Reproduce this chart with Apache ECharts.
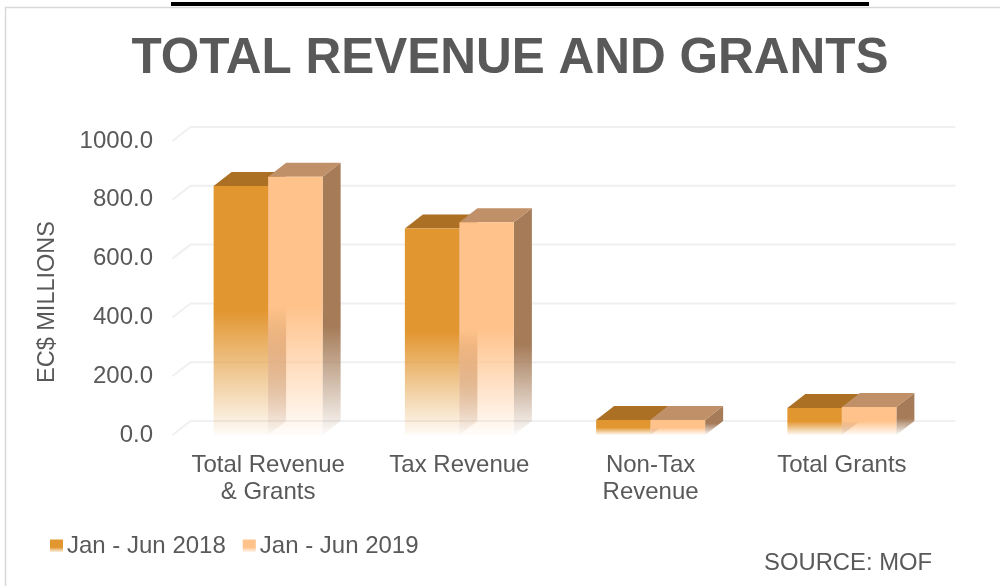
<!DOCTYPE html>
<html>
<head>
<meta charset="utf-8">
<style>
  html, body { margin: 0; padding: 0; background: #fff; }
  #main { width: 1000px; height: 586px; }
</style>
<script src="https://cdn.jsdelivr.net/npm/echarts@6/dist/echarts.min.js"></script>
</head>
<body>
<div id="main"></div>
<script>
var categories = ['Total Revenue\n& Grants', 'Tax Revenue', 'Non-Tax\nRevenue', 'Total Grants'];
var values2018 = [847, 702, 51, 92];
var values2019 = [878, 724, 51, 95];
var yTicks = [0, 200, 400, 600, 800, 1000];

var fontName = '"Liberation Sans", Arial, sans-serif';
var textColor = '#595959';
// 3d offset of the back of the bars, in pixels
var depthX = 18;
var depthY = 14;

var myChart = echarts.init(document.getElementById('main'), null, { renderer: 'canvas' });

var fade = function(color, stop) {
  return new echarts.graphic.LinearGradient(0, 0, 0, 1, [
    { offset: 0, color: color },
    { offset: stop, color: color },
    { offset: 1, color: echarts.color.modifyAlpha(color, 0.04) }
  ]);
};

var barRender = function(front, top, side, isLeft) {
  return function(params, api) {
    var base = api.coord([api.value(0), 0]);
    var head = api.coord([api.value(0), api.value(1)]);
    var w = api.size([1, 0])[0] * 0.285;
    var x0 = isLeft ? head[0] - w : head[0];
    var x1 = x0 + w;
    return {
      type: 'group',
      children: [{
        type: 'polygon',
        shape: { points: [[x1, head[1]], [x1 + depthX, head[1] - depthY], [x1 + depthX, base[1] - depthY], [x1, base[1]]] },
        style: { fill: fade(side, 0.6) }
      }, {
        type: 'polygon',
        shape: { points: [[x0, head[1]], [x0 + depthX, head[1] - depthY], [x1 + depthX, head[1] - depthY], [x1, head[1]]] },
        style: { fill: top }
      }, {
        type: 'rect',
        shape: { x: x0, y: head[1], width: w, height: base[1] - head[1] },
        style: { fill: fade(front, 0.5) }
      }]
    };
  };
};

var gridRender = function(params, api) {
  var y = api.coord([0, api.value(0)])[1];
  var box = params.coordSys;
  return {
    type: 'polyline',
    shape: { points: [[box.x, y], [box.x + depthX, y - depthY], [box.x + box.width + depthX, y - depthY]] },
    style: { fill: 'none', stroke: '#f0f0f0', lineWidth: 2 },
    silent: true
  };
};

var option = {
  animation: false,
  backgroundColor: '#fff',
  textStyle: { fontFamily: fontName },
  title: {
    text: 'TOTAL REVENUE AND GRANTS',
    left: 505,
    top: 29,
    textAlign: 'center',
    textStyle: { fontFamily: fontName, fontSize: 49.5, fontWeight: 'bold', color: textColor }
  },
  legend: {
    left: 45,
    top: 529,
    itemWidth: 13,
    itemHeight: 13,
    itemGap: 17,
    icon: 'rect',
    textStyle: { fontFamily: fontName, fontSize: 24, color: textColor, padding: [0, 0, 0, -1] },
    data: [
      { name: 'Jan - Jun 2018', itemStyle: { color: fade('#e29630', 0.6) } },
      { name: 'Jan - Jun 2019', itemStyle: { color: fade('#ffc28a', 0.6) } }
    ]
  },
  grid: { left: 172.5, right: 62.5, top: 141, bottom: 151 },
  xAxis: {
    type: 'category',
    data: categories,
    axisLine: { show: false },
    axisTick: { show: false },
    axisLabel: { fontFamily: fontName, fontSize: 24, color: textColor, margin: 17, lineHeight: 27, interval: 0 }
  },
  yAxis: {
    type: 'value',
    min: 0,
    max: 1000,
    interval: 200,
    axisLine: { show: false },
    axisTick: { show: false },
    splitLine: { show: false },
    axisLabel: {
      fontFamily: fontName, fontSize: 24, color: textColor, margin: 19.5, padding: [6, 0, 0, 0],
      formatter: function(v) { return v.toFixed(1); }
    }
  },
  graphic: [
    { type: 'rect', shape: { x: 171, y: 2, width: 698, height: 4 }, style: { fill: '#000' } },
    { type: 'polyline', shape: { points: [[5.5, 586], [5.5, 7.5], [1000, 7.5]] }, style: { fill: 'none', stroke: '#d9d9d9', lineWidth: 1.5 } },
    {
      type: 'text', x: 48, y: 302, rotation: Math.PI / 2,
      style: { text: 'EC$ MILLIONS', fontFamily: fontName, fontSize: 23.5, fill: textColor, textAlign: 'center', textVerticalAlign: 'middle' }
    },
    {
      type: 'text', x: 932, y: 563,
      style: { text: 'SOURCE: MOF', fontFamily: fontName, fontSize: 23.8, fill: textColor, textAlign: 'right', textVerticalAlign: 'middle' }
    }
  ],
  series: [{
    name: 'walls',
    type: 'custom',
    renderItem: gridRender,
    encode: { y: 0 },
    data: yTicks.map(function(v) { return [v]; }),
    z: 1,
    silent: true
  }, {
    name: 'Jan - Jun 2018',
    type: 'custom',
    renderItem: barRender('#e29630', '#ab7023', '#a57b58', true),
    encode: { x: 0, y: 1 },
    data: values2018.map(function(v, i) { return [i, v]; }),
    z: 2
  }, {
    name: 'Jan - Jun 2019',
    type: 'custom',
    renderItem: barRender('#ffc28a', '#c09068', '#a57b58', false),
    encode: { x: 0, y: 1 },
    data: values2019.map(function(v, i) { return [i, v]; }),
    z: 3
  }]
};

myChart.setOption(option);
</script>
</body>
</html>
